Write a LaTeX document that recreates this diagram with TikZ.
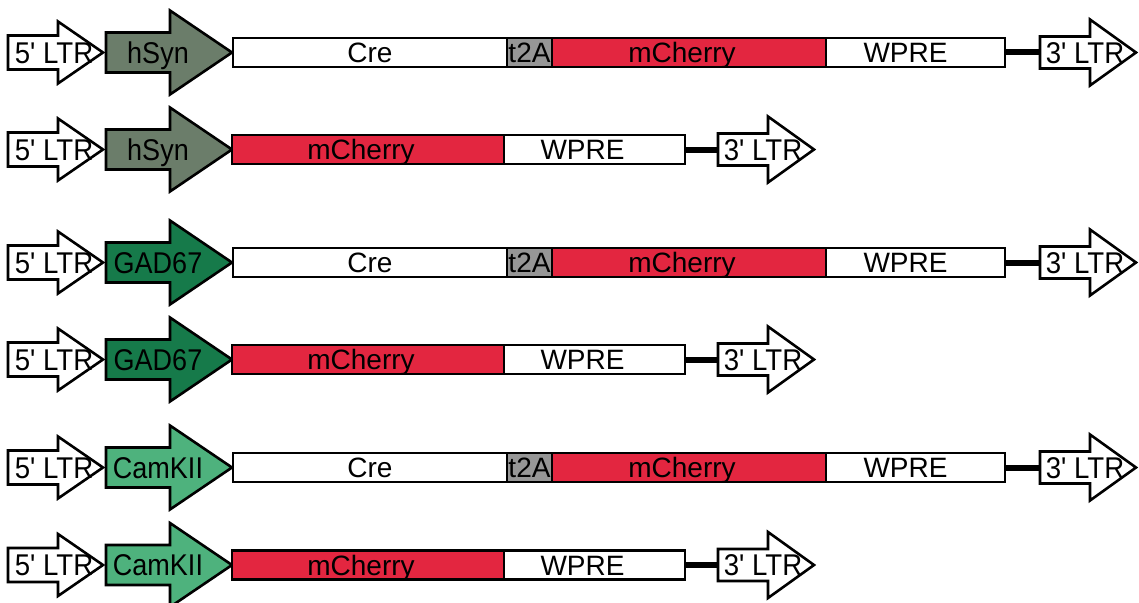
\documentclass[tikz,border=0pt]{standalone}
\usepackage{fontspec}
\setmainfont{Liberation Sans}[Ligatures=TeXOff]
\definecolor{hsyn}{HTML}{6B7D6A}
\definecolor{gad}{HTML}{167A4A}
\definecolor{camk}{HTML}{4EB27D}
\definecolor{cherry}{HTML}{E32640}
\definecolor{tgrey}{HTML}{969696}
\tikzset{
  outl/.style={draw=black, line width=2.6pt, line join=miter},
  seg/.style={draw=black, line width=2.4pt, minimum height=29pt, inner sep=0pt, outer sep=0pt,
    anchor=west, font=\fontsize{28}{28}\selectfont, text height=20pt, text depth=0pt},
  lab/.style={inner sep=0pt, font=\fontsize{30}{30}\selectfont, text height=21.5pt, text depth=0pt},
  link/.style={draw=black, line width=6pt},
}
% #1 id, #2 y, #3 x0, #4 neck, #5 tip, #6 body half, #7 head half, #8 fill
\newcommand\geneArrow[8]{%
  \draw[outl, fill=#8] (#3,#2-#6) -- (#4,#2-#6) -- (#4,#2-#7) -- (#5,#2) --
    (#4,#2+#7) -- (#4,#2+#6) -- (#3,#2+#6) -- cycle;
  \coordinate (#1-w) at (#3,#2);
}
% #1 id, #2 y, #3 promoter fill, #4 promoter label
\newcommand\leftPart[4]{%
  \geneArrow{#1-ltrfive}{#2}{8}{58}{103}{17}{31}{white}
  \node[lab] (#1-ltrfivelab) at (54,#2) {\scalebox{0.92}[1]{5' LTR}};
  \geneArrow{#1-prom}{#2}{106}{170}{232}{20}{42}{#3}
  \node[lab] (#1-promlab) at (158,#2) {\scalebox{0.9}[1]{#4}};
}
% #1 id, #2 y, #3 x0 of 3' LTR
\newcommand\rightPart[3]{%
  \geneArrow{#1-ltrthree}{#2}{#3}{#3+50}{#3+96}{16}{33}{white}
  \node[lab] (#1-ltrthreelab) at (#3+45,#2) {\scalebox{0.92}[1]{3' LTR}};
  \draw[link] (#1-wpre.east) -- (#1-ltrthree-w);
}
\newcommand\longRow[4]{%
  \leftPart{#1}{#2}{#3}{#4}
  \node[seg, minimum width=274pt, fill=white] (#1-cre) at (233,#2) {Cre};
  \node[seg, minimum width=45pt, fill=tgrey] (#1-tta) at (#1-cre.east) {t2A};
  \node[seg, minimum width=274pt, fill=cherry] (#1-mch) at (#1-tta.east) {mCherry\kern14pt};
  \node[seg, minimum width=179pt, fill=white] (#1-wpre) at (#1-mch.east) {WPRE\kern20pt};
  \rightPart{#1}{#2}{1040}
}
\newcommand\shortRow[4]{%
  \leftPart{#1}{#2}{#3}{#4}
  \node[seg, minimum width=272pt, fill=cherry] (#1-mch) at (232,#2) {mCherry\kern14pt};
  \node[seg, minimum width=181pt, fill=white] (#1-wpre) at (#1-mch.east) {WPRE\kern24pt};
  \rightPart{#1}{#2}{718}
}
\begin{document}
\begin{tikzpicture}[x=1pt, y=-1pt]
  \useasboundingbox (0,0) rectangle (1139,602);
  \longRow{ra}{52.5}{hsyn}{hSyn}
  \shortRow{rb}{149.5}{hsyn}{hSyn}
  \longRow{rc}{262.5}{gad}{GAD67}
  \shortRow{rd}{359.5}{gad}{GAD67}
  \longRow{re}{467.5}{camk}{CamKII}
  \shortRow{rf}{565}{camk}{CamKII}
\end{tikzpicture}
\end{document}
